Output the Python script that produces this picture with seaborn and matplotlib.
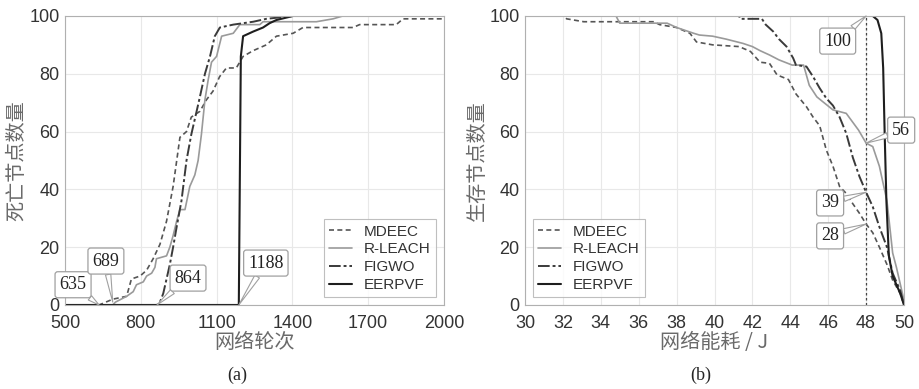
import matplotlib
matplotlib.use("Agg")
import matplotlib.pyplot as plt
import seaborn as sns
import pandas as pd

# ---- (a) dead nodes vs. rounds ----
rounds_mdeec = [500, 635, 689, 744, 763, 797, 823, 849, 876, 902, 928, 955, 981, 1000, 1034,
                1060, 1086, 1112, 1139, 1178, 1205, 1245, 1297, 1337, 1403, 1442, 1640, 1666,
                1811, 1838, 2000]
dead_mdeec = [0, 0, 2, 3, 9, 10, 12, 16, 21, 29, 41, 58, 60, 65, 67,
              71, 74, 79, 82, 82, 86, 88, 90, 93, 94, 96, 96, 97,
              97, 99, 99]

rounds_rleach = [500, 689, 700, 744, 770, 783, 810, 823, 843, 856, 862, 902, 915, 928, 942,
                 955, 975, 994, 1014, 1027, 1040, 1054, 1067, 1080, 1100, 1120, 1166, 1192,
                 1271, 1284, 1495, 1561, 1600, 2000]
dead_rleach = [0, 0, 1, 3, 4.6, 7, 8, 10, 11, 13, 16, 17, 20, 24, 29,
               33, 33, 41, 45, 50, 59, 71, 78, 84, 86, 93, 94, 97,
               97, 98, 98, 99, 100, 100]

rounds_figwo = [500, 864, 876, 889, 902, 915, 928, 942, 961, 981, 1000, 1021, 1034, 1054,
                1074, 1093, 1113, 1166, 1245, 1297, 1403, 2000]
dead_figwo = [0, 0, 1, 4, 9, 14, 20, 27, 36, 50, 59, 67, 72, 80,
              86, 93, 96, 97, 98, 99, 100, 100]

rounds_eerpvf = [500, 1188, 1196, 1205, 1245, 1284, 1310, 1337, 1403, 2000]
dead_eerpvf = [0, 0, 86, 93, 94.6, 96, 97.5, 98.6, 100, 100]

first_death = {"MDEEC": 635, "R-LEACH": 689, "FIGWO": 864, "EERPVF": 1188}

# ---- (b) alive nodes vs. energy consumption ----
energy_mdeec = [30, 32.0, 32.2, 33.1, 36.8, 37.1, 38.0, 38.7, 39.05, 39.9, 41.3, 41.9, 42.4,
                42.9, 43.3, 43.9, 44.3, 44.85, 45.2, 45.55, 45.9, 46.25, 46.6, 46.95, 47.3,
                47.65, 48.0, 48.35, 48.7, 49.1, 49.4, 49.8, 50]
alive_mdeec = [100, 100, 99, 98, 98, 97, 96, 94, 91, 90, 89.4, 87.7, 84,
               83.6, 79.6, 78, 73, 68.6, 65, 62, 53.6, 48, 41, 38.6, 35,
               31.7, 28, 25, 20, 14, 8.6, 4, 0]

energy_rleach = [30, 34.8, 35.0, 37.5, 38.0, 38.9, 39.2, 39.9, 40.6, 41.5, 42.0, 42.4, 42.9,
                 43.4, 44.1, 44.7, 45.0, 45.4, 45.7, 46.25, 46.95, 47.6, 48.0, 48.35, 48.7,
                 49.1, 49.4, 49.6, 49.95, 50]
alive_rleach = [100, 100, 97.5, 97.5, 96, 94, 93.4, 93, 92, 90.5, 89.4, 88, 86.5,
                84.8, 83, 83, 76, 72, 70.4, 67.5, 66.3, 60.5, 56, 54.8, 48,
                36, 18, 13, 3, 0]

energy_figwo = [30, 41.3, 41.35, 42.5, 42.7, 43.1, 43.4, 43.8, 44.15, 44.3, 44.85, 45.2,
                45.55, 45.9, 46.25, 46.6, 46.95, 47.3, 47.65, 48.0, 48.35, 48.7, 49.1,
                49.4, 49.8, 50]
alive_figwo = [100, 100, 99, 99, 97, 94.6, 92, 89.4, 85.4, 83, 82.5, 79,
               75, 71.5, 69, 65, 59.4, 51, 44.4, 39, 34, 27, 20,
               11, 5, 0]

energy_eerpvf = [30, 48.35, 48.6, 48.8, 48.9, 48.98, 49.07, 49.2, 49.4, 49.8, 50]
alive_eerpvf = [100, 100, 98.6, 94, 82, 59, 36, 17, 10, 4, 0]

alive_at_48 = {"EERPVF": 100, "R-LEACH": 56, "FIGWO": 39, "MDEEC": 28}

series_names = ["MDEEC", "R-LEACH", "FIGWO", "EERPVF"]
styles = {
    "MDEEC": dict(color="#555555", linestyle=(0, (3, 2)), linewidth=1.2),
    "R-LEACH": dict(color="#9a9a9a", linestyle="-", linewidth=1.2),
    "FIGWO": dict(color="#3a3a3a", linestyle=(0, (6, 1.5, 1.5, 1.5)), linewidth=1.4),
    "EERPVF": dict(color="#1e1e1e", linestyle="-", linewidth=1.5),
}

sns.set_theme(style="white")
cjk = ["Noto Sans CJK SC", "DejaVu Sans"]
plt.rcParams["font.family"] = ["Liberation Sans", "DejaVu Sans"]

fig = plt.figure(figsize=(9.19, 3.89), dpi=100)
ax_a = fig.add_axes([0.0707, 0.216, 0.4124, 0.743])
ax_b = fig.add_axes([0.5713, 0.216, 0.4124, 0.743])

left_data = {
    "MDEEC": (rounds_mdeec, dead_mdeec),
    "R-LEACH": (rounds_rleach, dead_rleach),
    "FIGWO": (rounds_figwo, dead_figwo),
    "EERPVF": (rounds_eerpvf, dead_eerpvf),
}
right_data = {
    "MDEEC": (energy_mdeec, alive_mdeec),
    "R-LEACH": (energy_rleach, alive_rleach),
    "FIGWO": (energy_figwo, alive_figwo),
    "EERPVF": (energy_eerpvf, alive_eerpvf),
}

for ax, data in ((ax_a, left_data), (ax_b, right_data)):
    for name in series_names:
        xs, ys = data[name]
        df = pd.DataFrame({"x": xs, "y": ys})
        sns.lineplot(data=df, x="x", y="y", ax=ax, estimator=None, sort=False,
                     label=name, **styles[name])

# vertical reference line at 48 J
ax_b.axvline(48, color="#444444", linestyle=(0, (2, 2)), linewidth=0.9, zorder=1)

for ax in (ax_a, ax_b):
    ax.set_ylim(0, 100)
    ax.set_yticks(range(0, 101, 20))
    ax.grid(True, color="#e8e8e8", linewidth=0.8)
    ax.tick_params(direction="in", length=3, labelsize=13, colors="#bbbbbb",
                   labelcolor="#333333")
    ax.tick_params(axis="x", pad=7)
    ax.tick_params(axis="y", pad=4)
    for sp in ax.spines.values():
        sp.set_color("#b0b0b0")
        sp.set_linewidth(0.8)
    ax.set_axisbelow(True)

ax_a.set_xlim(500, 2000)
ax_a.set_xticks([500, 800, 1100, 1400, 1700, 2000])
ax_b.set_xlim(30, 50)
ax_b.set_xticks(range(30, 51, 2))

ax_a.set_xlabel("网络轮次", family=cjk, fontsize=14.5, color="#6a6a6a", labelpad=0)
ax_a.set_ylabel("死亡节点数量", family=cjk, fontsize=14.5, color="#6a6a6a", labelpad=1)
ax_b.set_xlabel("网络能耗 / J", family=cjk, fontsize=14.5, color="#6a6a6a", labelpad=0)
ax_b.set_ylabel("生存节点数量", family=cjk, fontsize=14.5, color="#6a6a6a", labelpad=1)

leg_kw = dict(fontsize=11, frameon=True, fancybox=False, handlelength=1.5,
              borderpad=0.35, labelspacing=0.25, handletextpad=0.8, borderaxespad=0.5)
leg_a = ax_a.legend(loc="lower right", **leg_kw)
leg_b = ax_b.legend(loc="lower left", **leg_kw)
for leg in (leg_a, leg_b):
    leg.get_frame().set_edgecolor("#b0b0b0")
    leg.get_frame().set_linewidth(0.8)
    for t in leg.get_texts():
        t.set_color("#333333")

serif = ["Liberation Serif", "DejaVu Serif"]
box = dict(boxstyle="round,pad=0.25,rounding_size=0.15", fc="white", ec="#a0a0a0", lw=0.9)
wedge = dict(arrowstyle="wedge,tail_width=0.3,shrink_factor=0.5", fc="white",
             ec="#a0a0a0", lw=0.8, shrinkA=0, shrinkB=0)

# first-death callouts
label_pos_a = {"MDEEC": (532, 7.0), "R-LEACH": (662, 15.2), "FIGWO": (987, 9.3),
               "EERPVF": (1295, 14.5)}
point_y_a = {"MDEEC": 0, "R-LEACH": 1, "FIGWO": 0, "EERPVF": 0}
for name in series_names:
    ax_a.annotate(str(first_death[name]), xy=(first_death[name], point_y_a[name]),
                  xytext=label_pos_a[name], ha="center", va="center", family=serif,
                  fontsize=13, color="#222222", bbox=box, arrowprops=wedge,
                  annotation_clip=False, zorder=6)

# alive-at-48 J callouts
label_pos_b = {"EERPVF": (46.5, 91.3), "R-LEACH": (49.85, 60.5), "FIGWO": (46.1, 35.3),
               "MDEEC": (46.1, 23.9)}
for name in series_names:
    ax_b.annotate(str(alive_at_48[name]), xy=(48, alive_at_48[name]),
                  xytext=label_pos_b[name], ha="center", va="center", family=serif,
                  fontsize=13, color="#222222", bbox=box, arrowprops=wedge,
                  annotation_clip=False, zorder=6)

fig.text(0.258, 0.035, "(a)", family=serif, fontsize=13, ha="center", va="center")
fig.text(0.762, 0.035, "(b)", family=serif, fontsize=13, ha="center", va="center")

fig.savefig("out.png", dpi=100)
